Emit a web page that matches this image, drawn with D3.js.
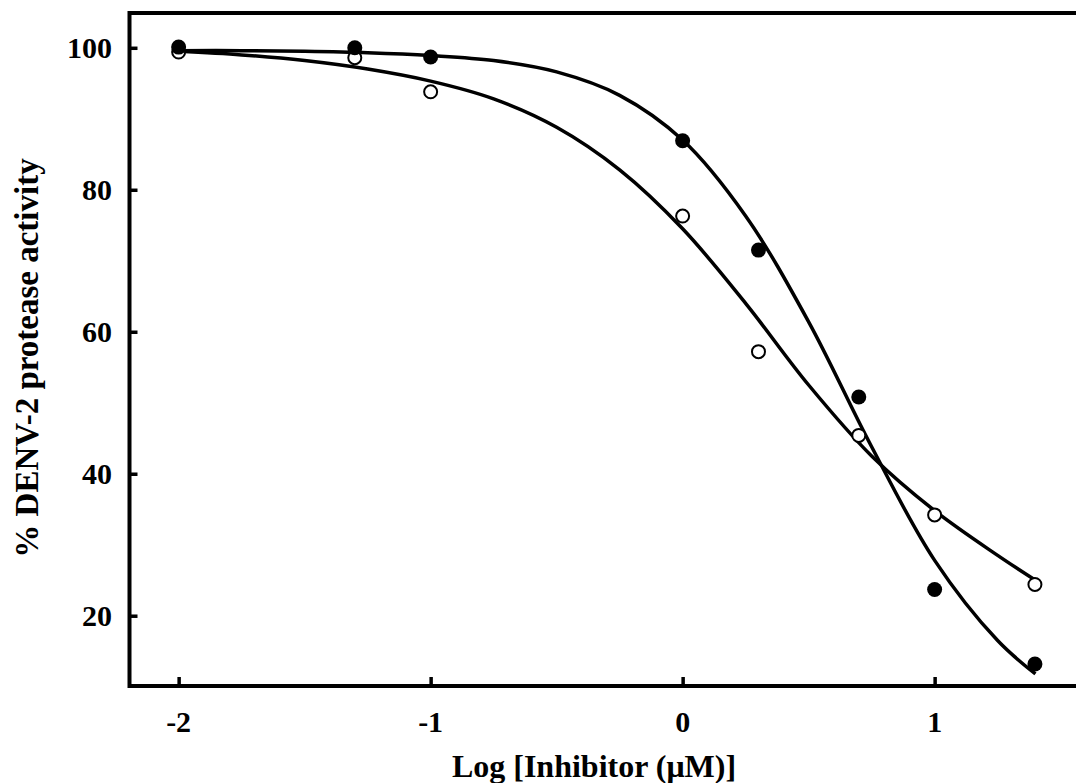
<!DOCTYPE html>
<html lang="en">
<head>
  <meta charset="UTF-8">
  <title>DENV-2 protease inhibition</title>
  <script src="https://d3js.org/d3.v7.min.js"></script>
  <style>
    body { margin: 0; background: #fff; }
    text { font-family: "Liberation Serif", "Times New Roman", serif; font-weight: bold; }
  </style>
</head>
<body>
  <script>

    // measured points (log concentration, % activity)
    var logConc = [-2, -1.301, -1, 0, 0.301, 0.699, 1, 1.398];
    var filledVals = [100.1, 100.0, 98.7, 86.9, 71.5, 50.8, 23.7, 13.2];
    var openVals = [99.4, 98.6, 93.8, 76.3, 57.2, 45.4, 34.2, 24.4];

    // fitted curves
    var curveX = [-2, -1.75, -1.5, -1.25, -1, -0.75, -0.5, -0.25, 0, 0.25, 0.5, 0.75, 1, 1.25, 1.4];
    var filledCurve = [99.6, 99.6, 99.5, 99.3, 98.9, 98.2, 96.6, 93.3, 87.0, 76.3, 61.4, 43.8, 27.8, 16.5, 11.8];
    var openCurve = [99.5, 99.0, 98.2, 97.0, 95.3, 92.8, 88.8, 82.8, 74.5, 64.0, 52.5, 42.5, 34.8, 28.5, 25.0];

    var xTicks = [-2, -1, 0, 1];
    var yTicks = [20, 40, 60, 80, 100];

    var width = 1076, height = 783;
    var plotLeft = 129.5, plotRight = 1076, plotTop = 13, plotBottom = 686;

    var svg = d3.select("body")
      .append("svg")
        .attr("width", width)
        .attr("height", height);

    var x = d3.scaleLinear().domain([-2.195, 1.561]).range([plotLeft, plotRight]);
    var y = d3.scaleLinear().domain([10.1, 104.9]).range([plotBottom, plotTop]);

    // frame: left, bottom, top (no right side)
    svg.append("path")
      .attr("d", "M" + plotRight + "," + plotTop + "H" + plotLeft + "V" + plotBottom + "H" + plotRight)
      .attr("fill", "none")
      .attr("stroke", "#000")
      .attr("stroke-width", 4);

    // y axis, ticks point inward
    var yAxis = svg.append("g")
      .attr("transform", "translate(" + plotLeft + ",0)")
      .call(d3.axisRight(y).tickValues(yTicks).tickSize(8).tickFormat(""));
    yAxis.select(".domain").remove();
    yAxis.selectAll("line").attr("stroke-width", 3.5);

    svg.selectAll(".ylab")
      .data(yTicks)
      .enter()
      .append("text")
        .attr("x", 112)
        .attr("y", function(d) { return y(d); })
        .attr("dy", "0.35em")
        .attr("text-anchor", "end")
        .attr("font-size", 30)
        .text(function(d) { return d; });

    // x axis
    var xAxis = svg.append("g")
      .attr("transform", "translate(0," + plotBottom + ")")
      .call(d3.axisTop(x).tickValues(xTicks).tickSize(9).tickFormat(""));
    xAxis.select(".domain").remove();
    xAxis.selectAll("line").attr("stroke-width", 3.5);

    svg.selectAll(".xlab")
      .data(xTicks)
      .enter()
      .append("text")
        .attr("x", function(d) { return x(d); })
        .attr("y", 732)
        .attr("text-anchor", "middle")
        .attr("font-size", 30)
        .text(function(d) { return d; });

    svg.append("text")
      .attr("x", 594)
      .attr("y", 777)
      .attr("text-anchor", "middle")
      .attr("font-size", 32)
      .text("Log [Inhibitor (\u03BCM)]");

    svg.append("text")
      .attr("transform", "translate(38,358) rotate(-90)")
      .attr("text-anchor", "middle")
      .attr("font-size", 33)
      .text("% DENV-2 protease activity");

    // curves
    var line = d3.line()
      .x(function(d) { return x(d[0]); })
      .y(function(d) { return y(d[1]); })
      .curve(d3.curveCatmullRom);

    [filledCurve, openCurve].forEach(function(vals) {
      svg.append("path")
        .datum(curveX.map(function(v, i) { return [v, vals[i]]; }))
        .attr("d", line)
        .attr("fill", "none")
        .attr("stroke", "#000")
        .attr("stroke-width", 3.5);
    });

    // points
    svg.selectAll(".open")
      .data(logConc)
      .enter()
      .append("circle")
        .attr("cx", function(d) { return x(d); })
        .attr("cy", function(d, i) { return y(openVals[i]); })
        .attr("r", 6.5)
        .attr("fill", "#fff")
        .attr("stroke", "#000")
        .attr("stroke-width", 2);

    svg.selectAll(".filled")
      .data(logConc)
      .enter()
      .append("circle")
        .attr("cx", function(d) { return x(d); })
        .attr("cy", function(d, i) { return y(filledVals[i]); })
        .attr("r", 7.5)
        .attr("fill", "#000");

  </script>
</body>
</html>
